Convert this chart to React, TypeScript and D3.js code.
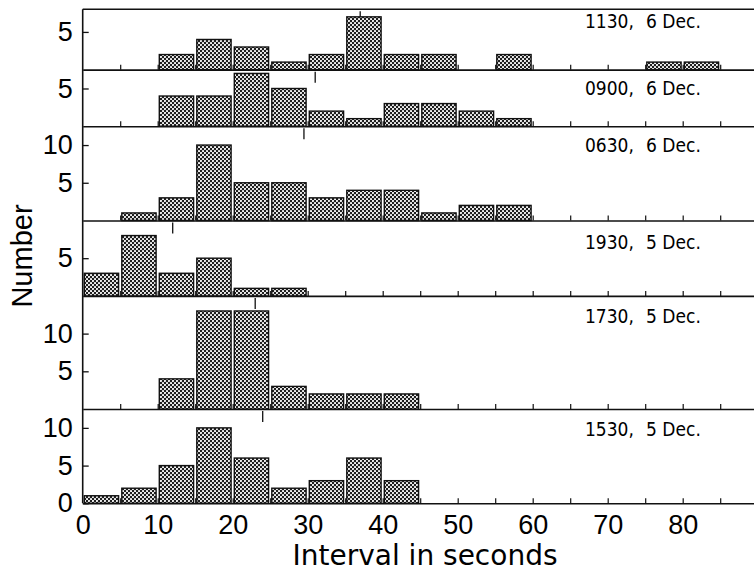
import React, { useEffect, useRef } from "react";
import { select, scaleLinear, axisLeft, axisBottom, range, sum } from "d3";

// one row per observation time, top to bottom
const times = ["1130,", "0900,", "0630,", "1930,", "1730,", "1530,"];
const dates = ["6 Dec.", "6 Dec.", "6 Dec.", "5 Dec.", "5 Dec.", "5 Dec."];

// 5 s bins: 0-5, 5-10, ... 85-90
const binStarts = range(0, 90, 5);

const counts1130 = [0, 0, 2, 4, 3, 1, 2, 7, 2, 2, 0, 2, 0, 0, 0, 1, 1, 0];
const counts0900 = [0, 0, 4, 4, 7, 5, 2, 1, 3, 3, 2, 1, 0, 0, 0, 0, 0, 0];
const counts0630 = [0, 1, 3, 10, 5, 5, 3, 4, 4, 1, 2, 2, 0, 0, 0, 0, 0, 0];
const counts1930 = [3, 8, 3, 5, 1, 1, 0, 0, 0, 0, 0, 0, 0, 0, 0, 0, 0, 0];
const counts1730 = [0, 0, 4, 13, 13, 3, 2, 2, 2, 0, 0, 0, 0, 0, 0, 0, 0, 0];
const counts1530 = [1, 2, 5, 10, 6, 2, 3, 6, 3, 0, 0, 0, 0, 0, 0, 0, 0, 0];

const panelCounts = [counts1130, counts0900, counts0630, counts1930, counts1730, counts1530];

// mean interval marker for each row
const means = [37, 31, 29.5, 12, 23, 24];

// y extent of each row and its labelled ticks
const yMax = [8, 7.5, 12.5, 10, 15, 12.5];
const yTicks = [[5], [5], [5, 10], [5], [5, 10], [0, 5, 10]];

const xLabels = range(0, 90, 10);
const xMinorTicks = range(5, 90, 5);

export default function App() {
  const ref = useRef<SVGSVGElement>(null);

  useEffect(() => {
    const svg = select(ref.current);
    svg.selectAll("*").remove();

    const left = 82.7;
    const top = 9.3;
    const bottom = 503.3;
    const right = 754;
    const labelOffset = [19, 25, 26, 29, 27, 27]; // label baseline below each row's top line
    const font = "'Liberation Sans', Arial, sans-serif";
    const narrow = "'Liberation Sans Narrow', 'DejaVu Sans Condensed', sans-serif";

    const xScale = scaleLinear().domain([0, 90]).range([left, left + 675]);

    // stack the rows: one unit of count is the same height in every row
    const stack = scaleLinear().domain([0, sum(yMax)]).range([top, bottom]);
    let acc = 0;
    const rows = yMax.map((m, i) => {
      const t = stack(acc);
      acc += m;
      const b = stack(acc);
      return { i, top: t, bottom: b, y: scaleLinear().domain([0, m]).range([b, t]) };
    });

    // dotted fill like the printed screen
    const pat = svg
      .append("defs")
      .append("pattern")
      .attr("id", "dots")
      .attr("width", 4)
      .attr("height", 4)
      .attr("patternUnits", "userSpaceOnUse");
    pat.append("rect").attr("width", 4).attr("height", 4).attr("fill", "#1e1e1e");
    pat.append("circle").attr("cx", 1).attr("cy", 1).attr("r", 1.05).attr("fill", "#fff");
    pat.append("circle").attr("cx", 3).attr("cy", 3).attr("r", 1.05).attr("fill", "#fff");

    // top frame line
    svg
      .append("line")
      .attr("x1", left)
      .attr("x2", right)
      .attr("y1", top)
      .attr("y2", top)
      .attr("stroke", "#111")
      .attr("stroke-width", 1.6);

    rows.forEach(row => {
      const g = svg.append("g");

      // baseline with small 5 s ticks pointing up
      const base = g
        .append("g")
        .attr("transform", `translate(0, ${row.bottom})`)
        .call(
          axisBottom(xScale)
            .tickValues(xMinorTicks)
            .tickSize(-5)
            .tickSizeOuter(0)
            .tickFormat(() => "")
        );
      base.select(".domain").attr("stroke", "#111").attr("stroke-width", 1.6);
      base.selectAll(".tick line").attr("stroke", "#111").attr("stroke-width", 1.2);

      // mean marker
      g.append("line")
        .attr("x1", xScale(means[row.i]))
        .attr("x2", xScale(means[row.i]))
        .attr("y1", row.top + 2)
        .attr("y2", row.top + 13)
        .attr("stroke", "#111")
        .attr("stroke-width", 1.3);

      const data = binStarts
        .map((s, j) => ({ start: s, count: panelCounts[row.i][j] }))
        .filter(d => d.count > 0);

      g.selectAll("rect.bar")
        .data(data)
        .enter()
        .append("rect")
        .attr("class", "bar")
        .attr("x", d => xScale(d.start) + 1.6)
        .attr("width", d => xScale(d.start + 5) - xScale(d.start) - 3.2)
        .attr("y", d => row.y(d.count))
        .attr("height", d => row.bottom - row.y(d.count))
        .attr("fill", "url(#dots)")
        .attr("stroke", "#111")
        .attr("stroke-width", 1.4);

      // y axis ticks point inward, labels on the left
      const yAxisG = g
        .append("g")
        .attr("transform", `translate(${left}, 0)`)
        .call(axisLeft(row.y).tickValues(yTicks[row.i]).tickSize(-6).tickPadding(10));
      yAxisG.select(".domain").remove();
      yAxisG.selectAll(".tick line").attr("stroke", "#111").attr("stroke-width", 1.3);
      yAxisG.attr("font-size", 27).attr("font-family", font);

      // time / date label
      g.append("text")
        .attr("x", 585)
        .attr("y", row.top + labelOffset[row.i])
        .attr("font-size", 19)
        .attr("font-family", narrow)
        .text(times[row.i]);
      g.append("text")
        .attr("x", 646)
        .attr("y", row.top + labelOffset[row.i])
        .attr("font-size", 19)
        .attr("font-family", narrow)
        .text(dates[row.i]);
    });

    // left frame line
    svg
      .append("line")
      .attr("x1", left)
      .attr("x2", left)
      .attr("y1", top)
      .attr("y2", bottom)
      .attr("stroke", "#111")
      .attr("stroke-width", 1.6);

    // x labels under the last row
    const xAxisG = svg
      .append("g")
      .attr("transform", `translate(0, ${bottom})`)
      .call(axisBottom(xScale).tickValues(xLabels).tickSize(0).tickPadding(12));
    xAxisG.select(".domain").remove();
    xAxisG.attr("font-size", 27).attr("font-family", font);

    svg
      .append("text")
      .attr("x", 425)
      .attr("y", 565)
      .attr("text-anchor", "middle")
      .attr("font-size", 28)
      .attr("font-family", "'DejaVu Sans', sans-serif")
      .text("Interval in seconds");

    svg
      .append("text")
      .attr("transform", "translate(32, 256) rotate(-90)")
      .attr("text-anchor", "middle")
      .attr("font-size", 29)
      .attr("font-family", font)
      .text("Number");
  }, []);

  return (
    <svg
      ref={ref}
      width={754}
      height={574}
      style={{ position: "absolute", left: 0, top: 0, background: "#fff" }}
    />
  );
}
